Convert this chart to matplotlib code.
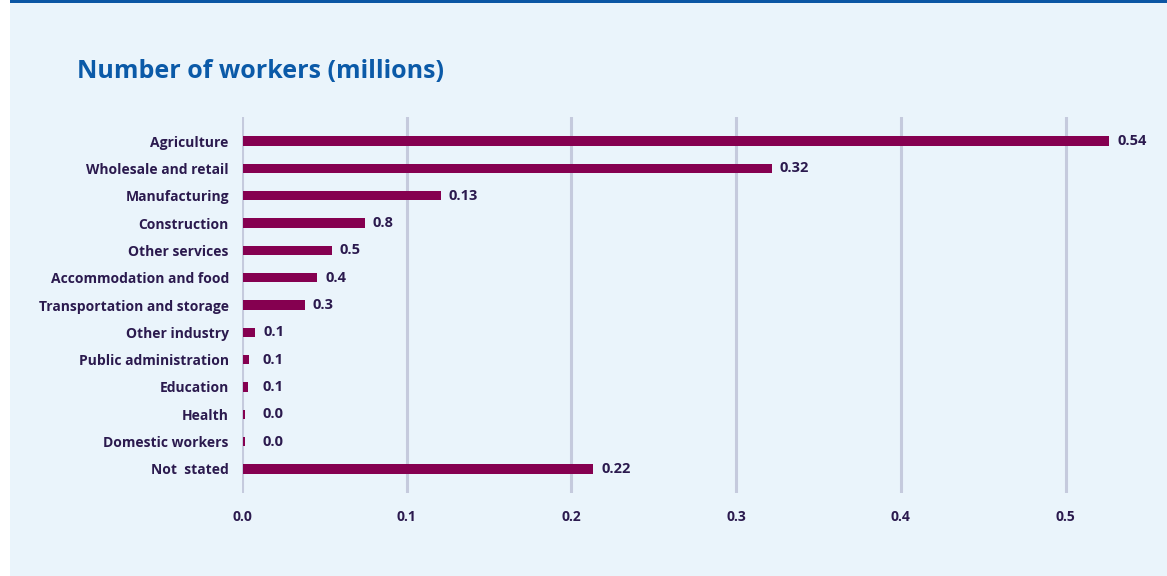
import numpy as np
import matplotlib.pyplot as plt
from matplotlib.patches import Rectangle

# <------------------------- Datos ------------------------->
sectors = ["Agriculture", "Wholesale and retail", "Manufacturing", "Construction",
           "Other services", "Accommodation and food", "Transportation and storage",
           "Other industry", "Public administration", "Education", "Health",
           "Domestic workers", "Not  stated"]
workers = [0.526, 0.321, 0.120, 0.074, 0.054, 0.045, 0.0375,
           0.0073, 0.0036, 0.003, 0.0012, 0.0012, 0.2125]
value_labels = ["0.54", "0.32", "0.13", "0.8", "0.5", "0.4", "0.3",
                "0.1", "0.1", "0.1", "0.0", "0.0", "0.22"]
xticks = [0.0, 0.1, 0.2, 0.3, 0.4, 0.5]

# <------------------------- Estilo ------------------------->
bg = "#EAF4FB"
bar_color = "#850050"
text_color = "#2B1A4E"
grid_color = "#C5CADD"
title_color = "#0B5AA8"
plt.rcParams["font.family"] = ["Open Sans", "DejaVu Sans"]

W, H = 1167, 576
fig = plt.figure(figsize=(W / 100, H / 100), dpi=100, facecolor="white")
# panel de fondo y linea superior
fig.patches.append(Rectangle((10 / W, 0), 1 - 10 / W, 1, transform=fig.transFigure,
                             facecolor=bg, edgecolor="none", zorder=-2))
fig.patches.append(Rectangle((10 / W, 1 - 3 / H), 1 - 10 / W, 3 / H, transform=fig.transFigure,
                             facecolor="#0B56A4", edgecolor="none", zorder=-1))

fig.text(77 / W, 1 - 72 / H, "Number of workers (millions)", color=title_color,
         fontsize=18, fontweight="bold", va="center", ha="left")

# <------------------------- Grafica ------------------------->
x0, x1 = 242, 1148
y_top, y_bot = 117, 493
ax = fig.add_axes([x0 / W, 1 - y_bot / H, (x1 - x0) / W, (y_bot - y_top) / H])
ax.set_facecolor("none")
pos = np.arange(len(sectors))
ax.barh(pos, workers, height=0.34, color=bar_color, zorder=3, left=0.0006)
# etiquetas de valor: las barras muy cortas dejan un minimo de espacio
for p, v, lab in zip(pos, workers, value_labels):
    ax.annotate(lab, (max(v, 0.0067), p), xytext=(9, 0), textcoords="offset pixels",
                va="center", ha="left", fontsize=10.5, fontweight="bold", color=text_color)

ax.set_xlim(0, 0.55)
ax.set_ylim(len(sectors) - 1 + 0.88, -0.88)
ax.set_xticks(xticks)
ax.set_xticklabels([f"{t:.1f}" for t in xticks])
ax.set_yticks(pos)
ax.set_yticklabels(sectors)
ax.tick_params(axis="both", length=0, labelsize=10, labelcolor=text_color)
ax.tick_params(axis="x", pad=12.5)
ax.tick_params(axis="y", pad=9.5)
for t in ax.get_xticklabels() + ax.get_yticklabels():
    t.set_fontweight("bold")
ax.grid(axis="x", color=grid_color, linewidth=2.2, zorder=1)
ax.grid(axis="y", visible=False)
for s in ax.spines.values():
    s.set_visible(False)

plt.savefig("out.png", dpi=100, facecolor="white")
